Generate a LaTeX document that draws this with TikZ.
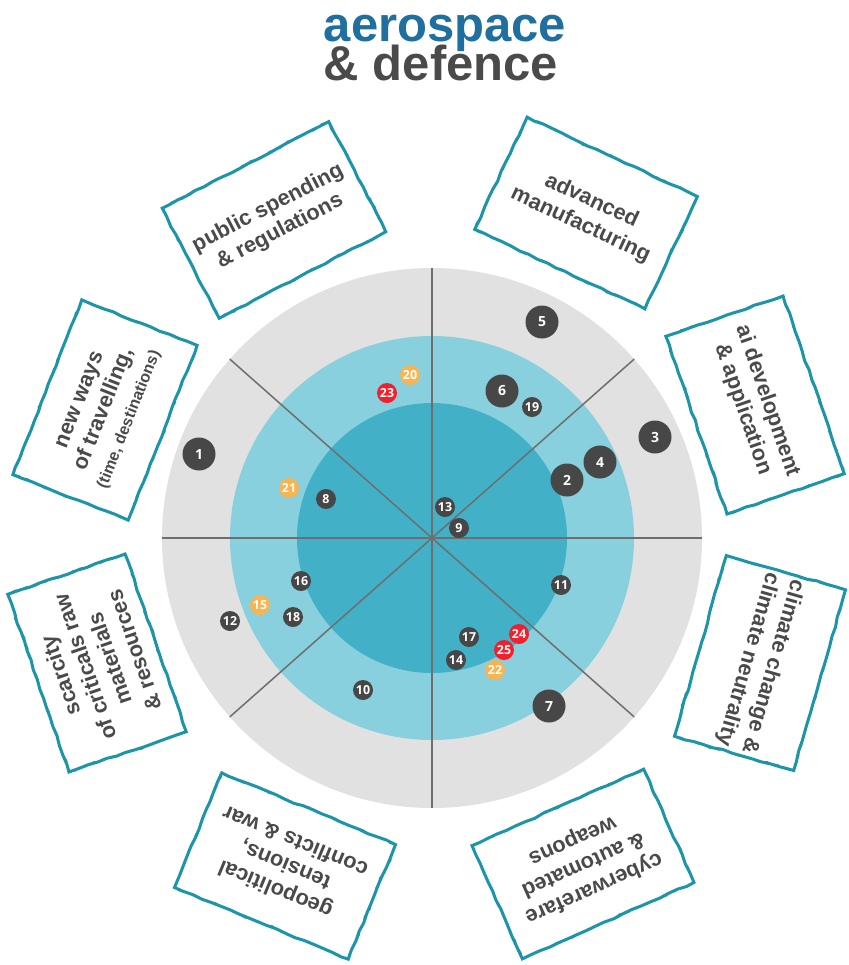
\documentclass[tikz,border=0pt]{standalone}
\usepackage{fontspec}
\setmainfont{Liberation Sans}
\newfontfamily\numfont{Open Sans}
\usetikzlibrary{positioning, decorations.pathmorphing}
\definecolor{ringgray}{HTML}{E1E1E1}
\definecolor{ringteal}{HTML}{88D0DD}
\definecolor{coreteal}{HTML}{42B1C7}
\definecolor{spokegray}{HTML}{6E6E6E}
\definecolor{dotgray}{HTML}{474747}
\definecolor{dotorange}{HTML}{F9B451}
\definecolor{dotred}{HTML}{F2202D}
\definecolor{boxteal}{HTML}{1C95AA}
\definecolor{titleblue}{HTML}{1F6F9F}
\definecolor{ink}{HTML}{4A4A4A}
\tikzset{spot/.style={circle,fill=dotgray,text=white,inner sep=0pt,minimum size=10pt,font=\numfont\bfseries\fontsize{6.2}{7}\selectfont}}
\tikzset{bigspot/.style={spot,minimum size=16.5pt,font=\numfont\bfseries\fontsize{7}{8}\selectfont}}
\tikzset{trend/.style={rectangle,draw=boxteal,line width=1.5pt,fill=white,align=center,inner sep=2pt,
  minimum width=94pt,minimum height=62pt,text=ink,font=\bfseries\fontsize{10.9}{13}\selectfont,
  decorate,decoration={random steps,segment length=5pt,amplitude=0.35pt},
  postaction={draw=boxteal,line width=0.5pt,decorate,decoration={random steps,segment length=3pt,amplitude=0.8pt}}}}
\tikzset{title/.style={font=\bfseries\fontsize{24.5}{24.5}\selectfont,inner sep=0pt}}
\pgfmathsetseed{11}

\begin{document}
\begin{tikzpicture}[x=0.5pt,y=-0.5pt]
		\useasboundingbox (0,0) rectangle (848,965);
		% Draw title
		\node[title, text=titleblue, anchor=base] (aero) at (445,41) {aerospace};
		\node[title, text=ink, anchor=base] (def) at (441,80) {\& defence};
		% Draw rings
		\coordinate (c) at (432,538);
		\fill[ringgray] (c) circle[radius=135pt];
		\fill[ringteal] (c) circle[radius=101pt];
		\fill[coreteal] (c) circle[radius=67.5pt];
		\foreach \a in {0,41.5,90,138.5,180,221.5,270,318.5}
			\draw[spokegray, line width=0.75pt] (c) -- ++(\a:270);
		% Draw trend boxes
		\node[trend, rotate=27.5] (spending) at (274,220) {public spending\\\& regulations};
		\node[trend, rotate=-25] (manufacturing) at (586,213) {advanced\\manufacturing};
		\node[trend, rotate=-71] (ai) at (755,405) {ai development\\\& application};
		\node[trend, rotate=-106] (climate) at (760,663) {climate change \&\\climate neutrality};
		\node[trend, rotate=-156] (cyber) at (583,864) {cyberwarefare\\\& automated\\weapons};
		\node[trend, rotate=157.6] (geo) at (285,866) {geopolitical\\tensions,\\conflicts \& war};
		\node[trend, rotate=109] (scarcity) at (97,663) {scarcity\\of criticals raw\\materials\\\& resources};
		\node[trend, rotate=68.5] (travel) at (105,410) {new ways\\of travelling,\\{\fontsize{8}{9}\selectfont(time, destinations)}};
		% Draw trends
		\node[bigspot] (t1) at (199,454) {1};
		\node[bigspot] (t2) at (567,480) {2};
		\node[bigspot] (t3) at (655,437) {3};
		\node[bigspot] (t4) at (600,462) {4};
		\node[bigspot] (t5) at (542,322) {5};
		\node[bigspot] (t6) at (502,391) {6};
		\node[bigspot] (t7) at (549,706) {7};
		\node[spot] (t8) at (326,499) {8};
		\node[spot] (t9) at (459,528) {9};
		\node[spot] (t10) at (363,690) {10};
		\node[spot] (t11) at (561,585) {11};
		\node[spot] (t12) at (230,621) {12};
		\node[spot] (t13) at (445,507) {13};
		\node[spot] (t14) at (456,660) {14};
		\node[spot, fill=dotorange] (t15) at (260,605) {15};
		\node[spot] (t16) at (301,581) {16};
		\node[spot] (t17) at (469,637) {17};
		\node[spot] (t18) at (293,617) {18};
		\node[spot] (t19) at (532,407) {19};
		\node[spot, fill=dotorange] (t20) at (410,375) {20};
		\node[spot, fill=dotorange] (t21) at (289,488) {21};
		\node[spot, fill=dotorange] (t22) at (495,670) {22};
		\node[spot, fill=dotred] (t23) at (387,393) {23};
		\node[spot, fill=dotred] (t24) at (519,634) {24};
		\node[spot, fill=dotred] (t25) at (504,650) {25};
	\end{tikzpicture}
\end{document}
